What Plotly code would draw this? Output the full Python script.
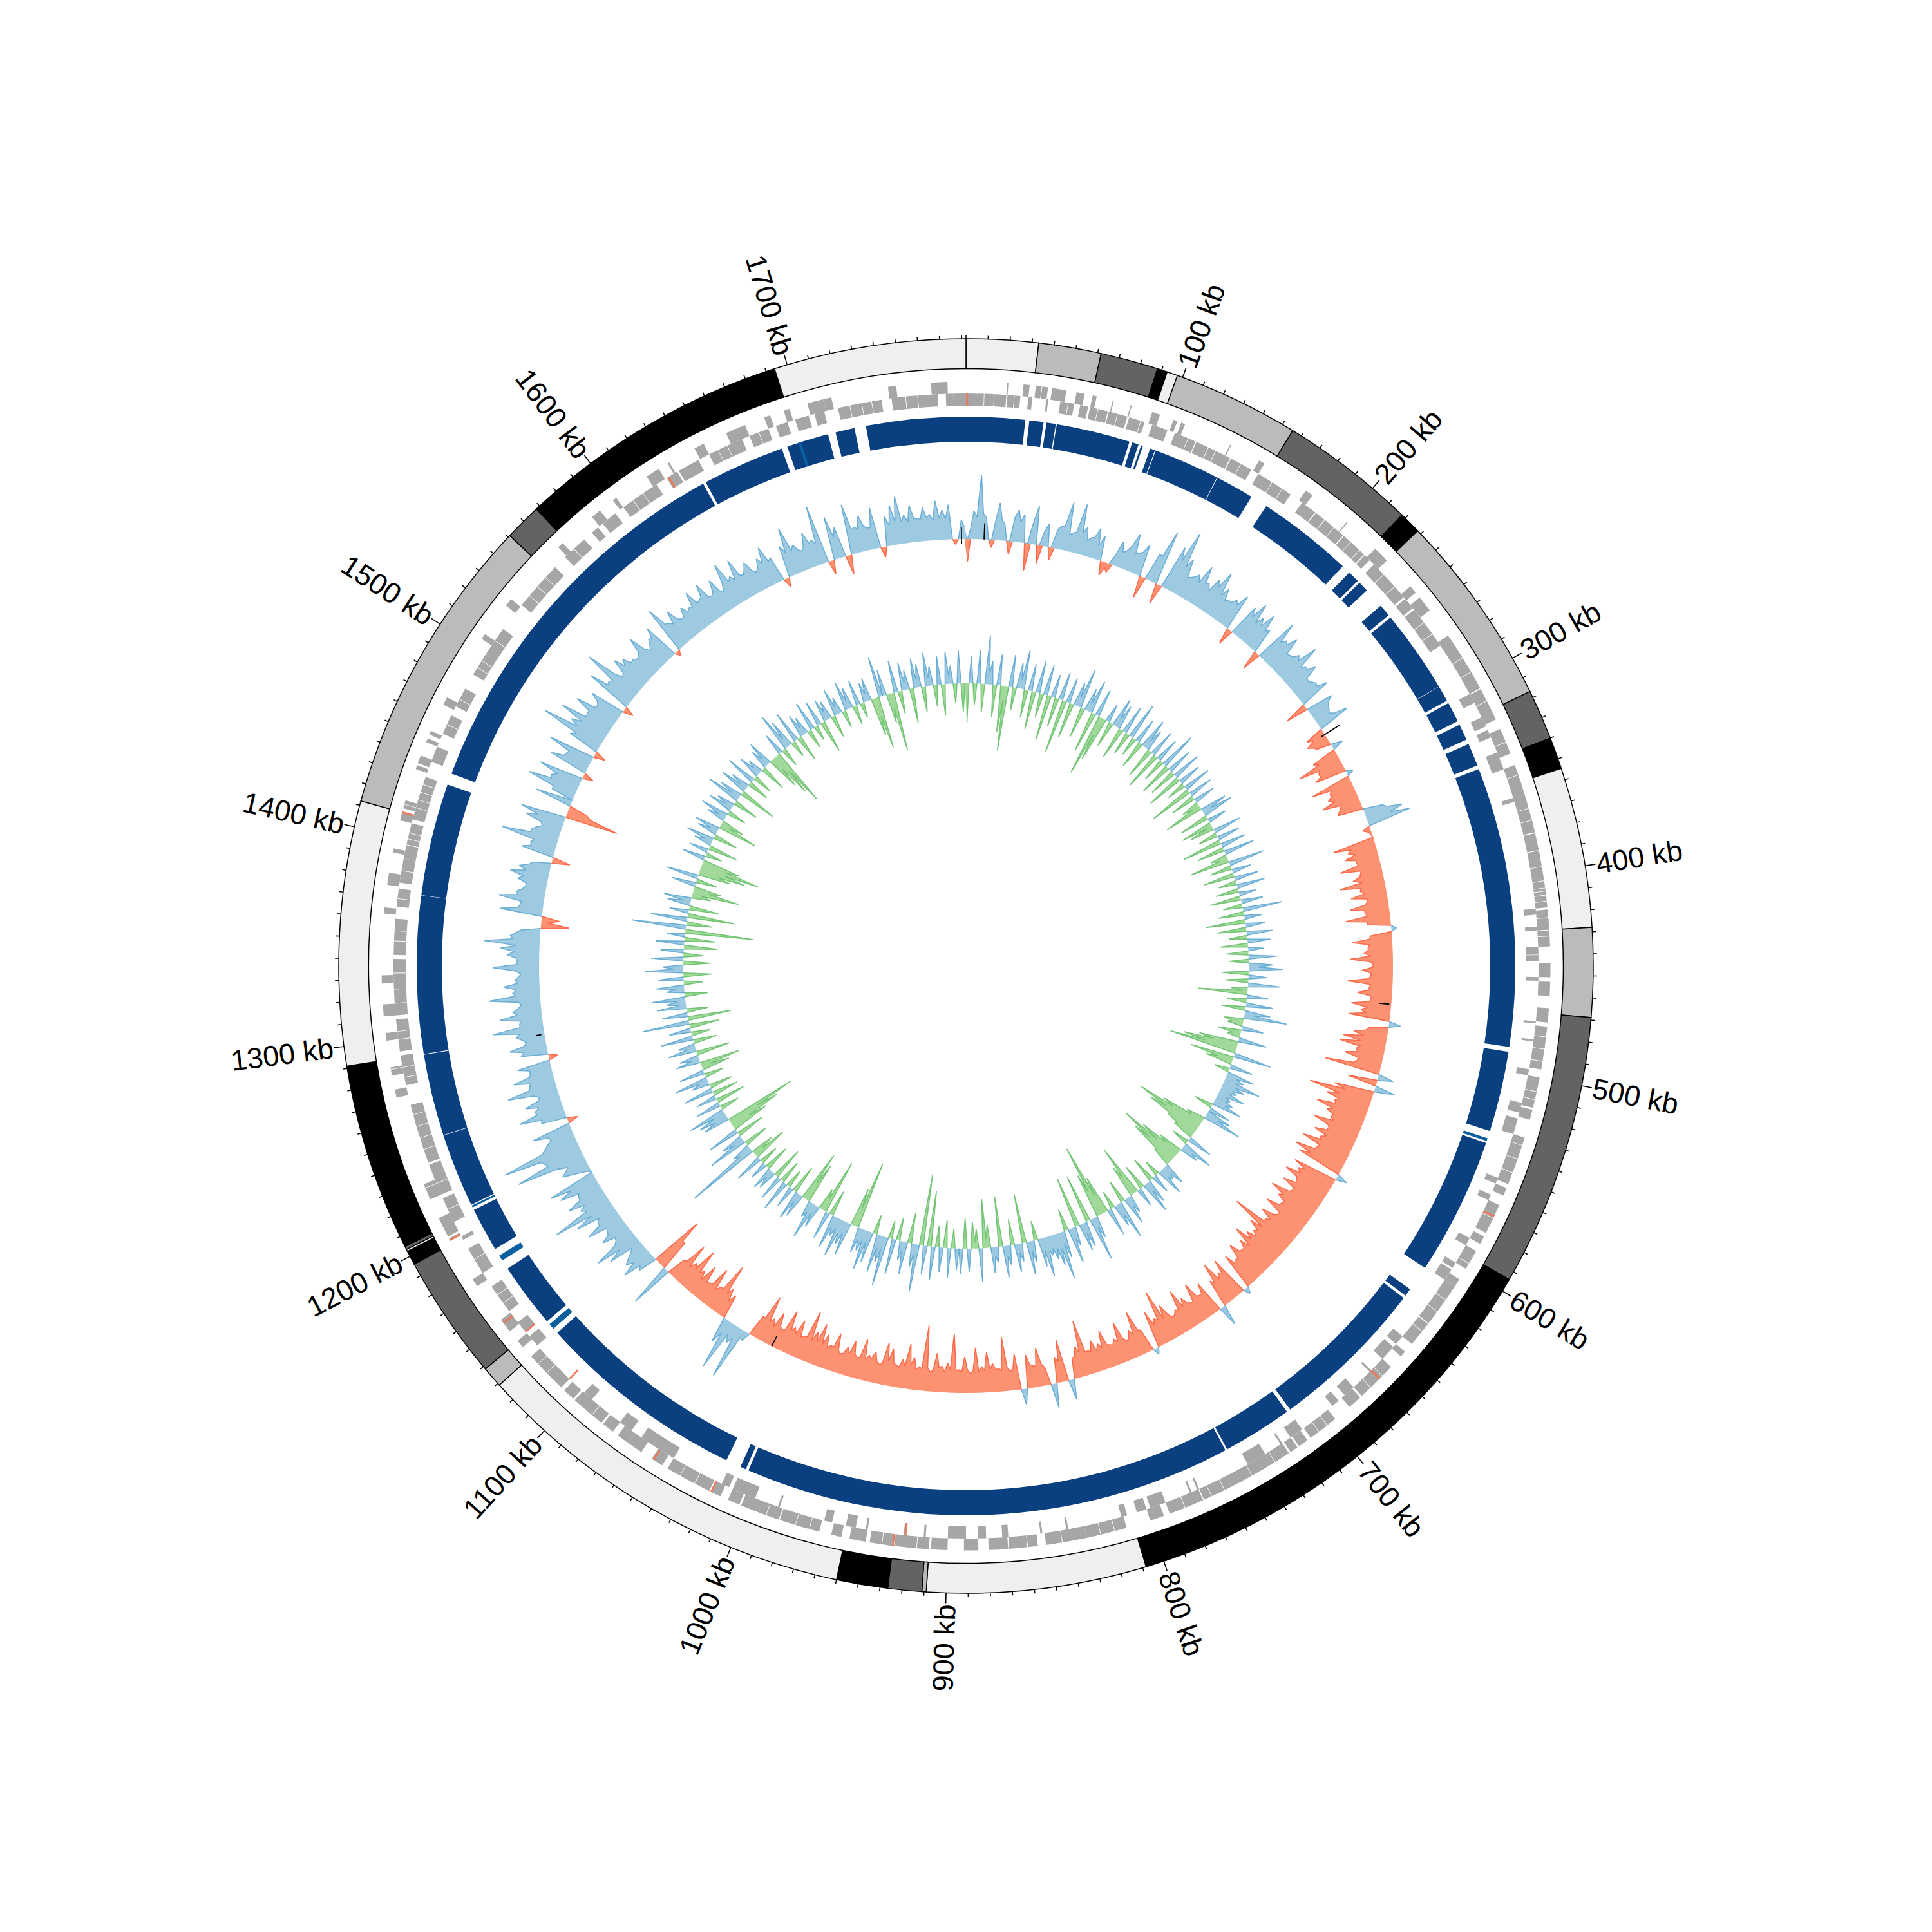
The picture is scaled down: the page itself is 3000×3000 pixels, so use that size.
import numpy as np
import plotly.graph_objects as go

GENOME_KB = 1782.0
TICK_LABELS_KB = list(range(100, 1800, 100))

BAND_START = [0, 33, 61.6, 88, 92.6, 97.5, 155.4, 218, 228, 317, 340, 354.6, 428, 468.8, 594, 808.4, 909, 911, 926.5, 950, 1129, 1138.6, 1196, 1202.5, 1203.5, 1205, 1291, 1412, 1551, 1568, 1694]
BAND_END = [33, 61.6, 88, 92.6, 97.5, 155.4, 218, 228, 317, 340, 354.6, 428, 468.8, 594, 808.4, 909, 911, 926.5, 950, 1129, 1138.6, 1196, 1202.5, 1203.5, 1205, 1291, 1412, 1551, 1568, 1694, 1782]
BAND_LEVEL = ["l", "m", "d", "k", "l", "m", "d", "k", "m", "d", "k", "l", "m", "d", "k", "l", "m", "d", "k", "l", "m", "d", "k", "l", "d", "k", "l", "m", "d", "k", "l"]

BLOCK_START = [0, 32.8, 41.7, 47.1, 87.2, 92, 97, 100, 134.9, 164, 219, 226.5, 242.6, 250.5, 294.2, 304, 316.5, 327.5, 341.5, 490, 538.5, 624, 629.5, 714, 751.5, 1008, 1019, 1137, 1183, 1209, 1247.8, 1290.8, 1373.2, 1438, 1642, 1688, 1714, 1730]
BLOCK_END = [30.7, 40.2, 46.6, 85.7, 90.6, 93, 99.6, 134.6, 155, 214.4, 225.2, 232, 249, 294, 302.5, 314.5, 325, 339.5, 487.5, 532, 610.5, 628, 712, 750.5, 1006.5, 1011, 1129, 1171, 1206, 1247.5, 1290.5, 1373, 1432, 1640.5, 1685, 1710, 1724, 1782]
STRIPE_START = [536, 1132, 1176, 1207.5, 1694]
STRIPE_END = [537.5, 1135, 1179, 1208.5, 1695.5]

# genes on the sparse side of the strand split, and on the dense side
GENE_SPARSE = [(20,20.6),(28,31),(34,40),(42,49),(54,58),(62,64),(72,72.6),(81,81.6),(92,96),(103,105),(107,109),(133,133.6),(149,152),(176,180),(201,201.6),(220,228),(245,249),(252,260),(275,282),(305,310),(318,323),(325,329),(337,346),(361,363),(417,420),(426,428),(436,443),(451,453),(473,474),(482,483),(497,500),(514,519),(522,530),(553,556),(562,565),(586,590),(600,603),(604,610),(645,650),(652,660),(668,669),(680,686),(690,694),(713,720),(725,726),(735,745),(772,773),(776,777),(790,798),(800,805),(810,813),(840,841),(853,854),(870,873),(881,885),(891,900),(911,912),(921,922),(940,941),(946,951),(958,962),(985,986),(998,1010),(1012,1016),(1043,1055),(1055,1062),(1068,1075),(1093,1098),(1135,1139),(1145,1152),(1172,1176),(1198,1199),(1200,1210),(1220,1228),(1272,1276),(1283,1287),(1300,1304),(1312,1318),(1328,1332),(1362,1365),(1376,1382),(1392,1394),(1408,1412),(1414,1418),(1434,1436),(1437,1441),(1448,1450),(1452,1454),(1468,1472),(1505,1508),(1525,1529),(1563,1566),(1585,1590),(1598,1600),(1618,1625),(1630,1631),(1645,1650),(1662,1672),(1682,1685),(1692,1695),(1704,1712),(1712,1716),(1744,1748),(1765,1773)]
GENE_DENSE = [(0,20),(20.6,27),(31,33),(40,41),(47,54),(57,61),(62,71),(71.5,81),(82,90),(94,102),(106,117),(117.5,136),(136.5,148),(152,171),(178,186),(186.5,204),(204.5,218),(218.5,222),(225,247),(248,254),(255,277),(277.5,305),(305.5,322),(327,340),(346,356),(354,380),(380.5,417),(418,436),(444,451),(453,460),(466,473),(475,496),(500,515),(516,521),(530,554),(556,560),(565,580),(582,586),(590,600),(606,610),(610,632),(632.5,645),(650,653),(660,680),(681,688),(697,712),(714,719),(720,724),(725,740),(738,752),(752,772),(772.5,790),(793,800),(812,832),(832,852),(856,870),(870.5,880),(885,892),(900,908),(909,926),(927,938),(940,948),(952,957),(963,983),(983.5,1003),(1004,1010),(1014,1019),(1020,1043),(1046,1052),(1058,1066),(1066,1072),(1075,1081),(1082,1099),(1100,1106),(1108,1129),(1131,1137),(1140,1146),(1153,1168),(1176,1190),(1195,1197),(1205,1218),(1220,1236),(1237,1267),(1277,1292),(1294,1310),(1312,1340),(1342,1360),(1366,1375),(1378,1390),(1390,1408),(1410,1432),(1440,1448),(1455,1465),(1470,1480),(1488,1500),(1500,1515),(1530,1555),(1562,1575),(1580,1584),(1587,1595),(1600,1620),(1626,1632),(1633,1644),(1650,1668),(1672,1682),(1686,1692),(1696,1703),(1706,1711),(1718,1740),(1745,1768),(1772,1782)]
GENE_RED_SPARSE = [921, 1108, 1150, 1198, 1412]
GENE_RED_DENSE = [0.6, 571, 668, 926.6, 1019, 1051, 1140, 1627]
GENE_SPACER_KB = [5,9,14,24,37,51,66,76,88,113,124,128,142,160,166,192,198,209,215,232,240,263,270,
                  288,296,312,334,351,368,374,389,397,404,407.5,409,411,414,422,428,431,440,453,480,486,492,507,511,534,541,548,572,597,618,625,637,666,674,702,707,733,746,761,768,782,818,825,844,861,895,915,932,968,975,990,1028,1036,1088,1118,1124,
                  1158,1163,1184,1212,1226,1244,1250,1256,1262,1281,1286,1300,1304,1318,1325,1333,1349,1354,1370,1384,1397,1400,1403,1416,1420,1424,1428,1460,1474,1492,1496,1508,1536,1542,1548,1568,1606,1612,1655,1660,1677,1724,1730,1735,1752,1758,1776]
STRAND_SWAP_KB = (280, 1130)

SKEW_A = [
-36,44,100,34,-12,58,26,-20,50,44,-42,60,-28,36,-20,36,76,30,78,44,30,48,38,-22,-14,
40,28,60,32,50,-34,44,86,-32,70,100,60,34,44,64,40,54,72,50,36,44,58,-26,52,65,
48,60,40,-30,71,46,58,34,44,69,40,52,28,36,50,-36,43,30,24,52,-30,-34,-22,18,-40,
-69,-40,-50,10,-64,-38,-45,-59,-32,-40,30,59,68,-12,-2,-66,-44,-52,-36,-64,-34,-48,-70,-40,-56,
-32,-60,-38,-70,-36,8,-34,-62,-38,-44,-66,-30,-48,-34,-70,-36,-54,-32,-62,-46,-64,18,-30,-52,-68,
-72,-44,-60,-38,-88,24,-46,32,-62,-100,-70,-54,-80,-60,-50,-74,-46,-66,-52,-78,-50,-83,-72,17,-70,
-60,-76,-52,-70,-48,-80,-62,-50,-72,-44,-68,-54,-106,-70,-56,-62,-78,-60,-48,-66,-44,-58,10,-64,-46,
-69,-44,32,-52,-36,-62,-34,-48,-66,-38,-30,-56,-84,-42,-58,10,-36,-70,-44,-30,-64,-40,-34,-60,-42,
-50,-36,-87,-48,-32,31,-66,-40,38,-28,-60,-34,-52,25,-56,-30,-84,-36,-44,-62,-40,-70,-30,-56,-36,
-92,-46,-40,-60,-30,-102,-36,-50,-70,-44,-34,-58,-66,-30,-48,-40,-64,-32,-56,-44,-30,-60,-38,-52,-66,
-50,-80,-36,-58,-42,-66,-30,-54,-40,-73,-34,14,84,30,80,41,-38,-44,-80,-36,-62,-30,-54,-40,-70,
-40,-66,-30,68,-50,-85,30,52,40,22,55,71,28,46,30,58,34,66,98,46,62,38,64,76,6,
44,30,110,60,123,50,36,62,-16,40,72,44,56,30,78,40,63,34,52,-14,42,58,30,44,79,
36,66,44,30,80,42,56,38,28,72,34,50,60,87,46,30,-44,-28,66,36,71,44,32,46,60,
48,28,-28,52,40,89,44,30,60,71,-83,-30,58,36,80,46,70,-16,62,40,74,-18,50,101,60,
83,44,70,38,56,-16,74,46,94,34,60,52,40,36,64,30,44,58,-8,77,42,56,34,48,40,
61,40,62,34,56,30,72,44,67,36,52,30,48,62,40,-14,50,76,44,30,56,40,92,-22,68,
48,-30,79,40,56,34,64,-16,46,62,75,44,58,36,52,40,61,46,54,-8,30]

SKEW_A_BETWEEN = [
16,34,40,0,30,32,0,38,32,0,34,0,24,0,30,36,26,32,34,24,32,22,0,-8,14,
24,38,30,36,0,0,42,0,0,50,44,32,38,34,38,32,44,36,32,36,38,0,0,38,34,
36,34,0,0,38,42,32,36,38,34,38,30,32,34,0,0,34,28,30,0,-20,-26,0,0,-32,
-36,-38,0,0,-34,-38,-36,-32,-36,0,36,38,0,-4,0,-38,-34,-36,-34,-32,-36,-34,-38,-34,-32,
-36,-38,-34,-36,0,0,-34,-36,-38,-34,-36,-32,-34,-38,-34,-36,-32,-34,-36,-38,0,0,-34,-36,-38,
-38,-40,-38,-42,0,0,0,0,-44,-50,-48,-50,-52,-48,-44,-50,-48,-44,-50,-48,-52,-54,0,0,-50,
-52,-54,-50,-48,-52,-56,-48,-52,-44,-50,-48,-54,-50,-52,-48,-50,-44,-48,-50,-44,-38,0,0,-40,-38,
-38,0,0,-36,-38,-34,-38,-36,-34,-32,-38,-36,-38,-34,0,0,-38,-34,-32,-36,-34,-32,-36,-34,-32,
-34,-36,-38,-34,0,0,-32,0,0,-34,-32,-36,0,0,-34,-36,-32,-34,-36,-34,-32,-34,-36,-32,-34,
-36,-32,-38,-34,-36,-34,-32,-38,-34,-32,-36,-38,-32,-34,-36,-32,-34,-36,-34,-32,-34,-36,-32,-34,-36,
-34,-36,-32,-34,-36,-32,-34,-28,-32,-34,0,12,20,18,22,0,-26,-34,-36,-28,-32,-28,-26,-32,-34,
-28,-32,0,0,-50,0,24,28,32,16,32,34,26,32,28,34,28,36,38,36,38,34,42,0,24,
36,46,56,64,58,44,38,0,0,38,42,36,34,38,42,38,36,34,0,0,36,34,36,38,36,
34,38,36,34,38,36,34,32,38,34,36,38,36,42,38,0,-10,0,38,34,42,36,32,38,36,
34,0,0,38,36,44,38,34,42,0,-38,0,0,36,44,38,0,0,42,38,0,0,42,46,44,
42,44,38,42,0,0,44,42,44,38,42,38,36,42,38,36,42,0,0,44,36,38,34,36,38,
38,42,36,38,34,42,38,36,38,42,36,34,38,36,0,0,38,36,34,36,38,34,0,0,34,
0,0,38,36,38,34,0,0,32,36,34,32,36,34,36,32,34,32,0,0,18]

SKEW_B = [
-62,42,-34,52,-44,76,36,-50,48,-72,-101,50,-36,40,61,-44,42,-60,50,-38,48,-70,36,-46,44,
-84,40,-56,38,62,-48,36,52,-64,44,-97,-70,30,-40,46,38,-50,44,-36,58,-30,40,-44,48,34,
-48,42,-60,38,-36,59,-52,40,-44,46,-57,36,-30,44,-69,38,-40,34,-28,-62,42,49,-46,30,-50,
-38,44,-30,36,-62,40,-44,48,-26,-62,56,-34,30,-48,38,-28,44,-36,26,-48,34,-30,61,-40,28,
-62,30,-46,40,-28,36,-44,24,-34,44,-30,38,53,-42,28,-36,50,-26,-77,34,-30,42,-38,40,68,
-30,-24,34,-36,-20,44,-62,-86,-106,59,-69,-42,36,-24,44,30,59,36,26,42,22,30,46,-30,34,
40,61,-30,-70,-109,-88,-50,-34,40,-28,49,30,-40,-70,-102,-78,-30,36,22,44,-26,30,-40,38,51,
-40,30,-82,-50,28,44,-36,60,36,-28,44,-60,-115,-70,34,68,-75,40,44,-80,30,56,-34,42,74,
50,38,30,62,44,-30,34,52,-75,28,44,-40,30,50,-77,24,40,-36,-76,52,-30,-42,36,-48,40,
34,-30,46,-44,38,-34,52,-87,44,-111,74,36,-48,50,30,-36,56,-28,78,42,60,-30,48,62,34,
40,-105,-60,52,38,60,30,54,-40,44,-85,-34,36,58,26,-64,-80,38,46,-44,34,-30,50,-36,40,
-50,30,36,-40,28,-30,44,-55,-36,116,30,-40,63,36,-46,50,-60,-84,-113,42,46,59,-30,40,-46,
32,-40,47,-36,28,52,-30,40,-44,-63,38,30,-52,44,26,-38,50,-30,34,-46,73,-67,40,-34,46,
30,52,-36,28,44,-30,40,-44,60,32,-42,50,-30,36,-52,44,-48,28,-106,85,-40,57,-73,30,-46,
36,43,-30,-73,-44,38,-34,50,-50,-72,-94,-60,37,-26,30,-46,28,44,-38,32,40,-62,-36,30,44,
-30,38,28,-40,54,36,-60,44,30,-34,48,-30,36,24,-42,30,40,-52,-70,-92,34,-30,61,44,-26,
50,-40,36,28,-30,46,-24,40,-51,34,30,-36,42,26,-28,46,34,-30,40,-24,30,36,-60,-81,64,
40,-46,-92,50,-36,44,30,-54,46,36,-40,52,30,-34,44,-48,50,28,-30,51,-44]

SKEW_B_BETWEEN = [
0,0,0,0,0,18,0,0,0,-24,0,0,0,14,0,0,0,0,0,0,0,0,0,0,0,
0,0,0,16,0,0,14,0,0,0,-30,0,0,0,14,0,0,0,0,0,0,0,0,14,0,
0,0,0,0,0,0,0,0,0,0,0,0,0,0,0,0,0,0,-12,0,14,0,0,0,-8,
0,0,0,0,0,0,0,0,-12,0,0,0,0,0,0,0,0,0,0,0,0,0,0,0,0,
0,0,0,0,0,0,0,0,0,0,0,14,0,0,0,0,0,-8,0,0,0,0,0,14,0,
-18,0,0,-12,0,0,-40,-50,0,0,-24,0,0,0,16,18,20,18,16,14,16,18,0,0,0,
20,0,-20,-50,-60,-50,-30,0,0,0,18,0,-24,-40,-50,-30,0,14,16,0,0,0,0,14,0,
0,0,-30,0,14,0,0,18,0,0,0,-30,-40,0,16,0,0,16,0,0,18,0,0,18,24,
22,20,22,20,0,0,16,0,0,14,0,0,16,0,0,14,0,-14,0,0,-10,0,0,0,0,
0,0,0,0,0,0,0,0,0,0,16,0,0,14,0,0,0,0,20,20,0,0,16,18,18,
0,-30,0,18,20,16,18,0,0,0,-20,0,14,16,0,-30,0,14,0,0,0,0,0,0,0,
0,12,0,0,0,0,0,-14,0,20,0,0,16,0,0,0,-30,-50,0,20,18,0,0,0,0,
0,0,0,0,14,0,0,0,-14,0,12,0,0,12,0,0,0,0,0,0,0,0,0,0,10,
12,0,0,12,0,0,0,0,14,0,0,0,0,0,0,0,0,0,0,0,0,0,0,0,0,
12,0,-14,-24,0,0,0,0,-30,-40,-40,0,0,0,0,0,12,0,0,12,0,-14,0,12,0,
0,12,0,0,14,0,0,12,0,0,0,0,12,0,0,12,0,-20,-30,0,0,0,14,0,0,
0,0,12,0,0,0,0,0,0,12,0,0,12,0,0,12,0,0,0,0,12,0,-30,0,0,
0,-24,0,0,0,12,0,0,12,0,0,12,0,0,0,0,12,0,0,0,0]

MARK_KB = [12, 283, 471, 1025, 1291, 1779]
MARK_LOW = [0, -6, -19, -18, 5, -7]
MARK_HIGH = [25, 27, -3, 0, 13, 19]

# ---- styles and scale ----
R_MAX = 1060.0
PAGE = 3000.0
CX = 0.5 - 8.0 / PAGE   # the page body adds an 8 px margin
CY = 0.5 + 8.0 / PAGE
R_BAND = (927.5, 974.0)
R_OUT = (889.0, 907.5)
R_IN = (870.0, 889.0)
R_BLOCK = (814.0, 853.0)
BASE_A = 663.0
BASE_B = 439.0
LEVEL = {"l": "#efefef", "m": "#bbbbbb", "d": "#636363", "k": "#000000"}
GENE = "#a6a6a6"
NAVY = "#0a3f80"
STRIPE = "#0a5fa0"
RED = "#f0785a"


def deg(kb):
    return np.asarray(kb, dtype=float) * 360.0 / GENOME_KB


def bars(start, end, lo, hi, color, line=None, lw=0):
    start = np.asarray(start, float)
    end = np.asarray(end, float)
    return go.Barpolar(
        theta=deg((start + end) / 2), width=deg(end - start),
        base=[lo] * len(start), r=[hi - lo] * len(start),
        marker=dict(color=color, line=dict(color=line or "rgba(0,0,0,0)", width=lw)),
        hoverinfo="skip", showlegend=False)


def weave(peaks, between):
    b = list(between) + [0] * max(0, len(peaks) - len(between))
    out = []
    for p, q in zip(peaks, b):
        out += [p, q]
    return np.array(out, float)


def track(values, base, up_fill, up_line, down_fill, down_line):
    v = values
    n = len(v)
    kb = (np.arange(n) + 0.5) * GENOME_KB / n
    th = deg(kb)
    out = []
    for sign, fill, line in ((1, up_fill, up_line), (-1, down_fill, down_line)):
        part = np.where(sign * v > 0, v, 0.0)
        r = base + part
        out.append(go.Scatterpolar(
            theta=np.r_[th, th[0], th[0], th[::-1]], r=np.r_[r, r[0], base, np.full(n, base)],
            mode="lines", fill="toself", fillcolor=fill, line=dict(width=0, color=fill),
            hoverinfo="skip", showlegend=False))
        act = part != 0
        near = act | np.roll(act, 1) | np.roll(act, -1)
        rr = r.copy()
        rr[~near] = np.nan
        out.append(go.Scatterpolar(
            theta=th, r=rr, mode="lines", line=dict(width=1.6, color=line),
            connectgaps=False, hoverinfo="skip", showlegend=False))
    return out


def swapped(mid):
    return (mid >= STRAND_SWAP_KB[0]) & (mid < STRAND_SWAP_KB[1])


fig = go.Figure()

# genes: the dense strand lies inside at the top and left, outside at the right and bottom
sp = np.array(GENE_SPARSE, float)
de = np.array(GENE_DENSE, float)
sp_sw = swapped((sp[:, 0] + sp[:, 1]) / 2)
de_sw = swapped((de[:, 0] + de[:, 1]) / 2)
outer = np.vstack([sp[~sp_sw], de[de_sw]])
inner = np.vstack([sp[sp_sw], de[~de_sw]])
fig.add_trace(bars(outer[:, 0], outer[:, 1], R_OUT[0], R_OUT[1], GENE))
fig.add_trace(bars(inner[:, 0], inner[:, 1], R_IN[0], R_IN[1], GENE))
gp = np.array(GENE_SPACER_KB, float)
fig.add_trace(bars(gp - 0.14, gp + 0.14, R_IN[0] - 1, R_OUT[1] + 1, "#ffffff"))
rs = np.array(GENE_RED_SPARSE, float)
rd = np.array(GENE_RED_DENSE, float)
r_out = np.r_[rs[~swapped(rs)], rd[swapped(rd)]]
r_in = np.r_[rs[swapped(rs)], rd[~swapped(rd)]]
fig.add_trace(bars(r_out - 0.45, r_out + 0.45, R_OUT[0], R_OUT[1], RED))
fig.add_trace(bars(r_in - 0.45, r_in + 0.45, R_IN[0], R_IN[1], RED))

# blocks
fig.add_trace(bars(BLOCK_START, BLOCK_END, R_BLOCK[0], R_BLOCK[1], NAVY))
fig.add_trace(bars(STRIPE_START, STRIPE_END, R_BLOCK[0], R_BLOCK[1], STRIPE))

# outer bands
fig.add_trace(bars(BAND_START, BAND_END, R_BAND[0], R_BAND[1],
                   [LEVEL[c] for c in BAND_LEVEL], line="#000000", lw=1.5))

# ticks
all_ticks = np.arange(0, 1790, 10.0)
minor = [t for t in all_ticks if t % 100 != 0 or t == 0]
th, rr = [], []
for t in minor:
    th += [float(deg(t)), float(deg(t)), None]
    rr += [R_BAND[1], R_BAND[1] + 6, None]
for t in TICK_LABELS_KB:
    th += [float(deg(t)), float(deg(t)), None]
    rr += [R_BAND[1], R_BAND[1] + 16, None]
fig.add_trace(go.Scatterpolar(theta=th, r=rr, mode="lines", line=dict(color="#000000", width=1.6),
                              hoverinfo="skip", showlegend=False))

# tracks
for tr in track(weave(SKEW_A, SKEW_A_BETWEEN), BASE_A, "#9ecae1", "#6baed6", "#fc9272", "#fb6a4a"):
    fig.add_trace(tr)
for tr in track(weave(SKEW_B, SKEW_B_BETWEEN), BASE_B, "#9ecae1", "#6baed6", "#a1d99b", "#74c476"):
    fig.add_trace(tr)

# small black marks on the first track
th, rr = [], []
for k, a, b in zip(MARK_KB, MARK_LOW, MARK_HIGH):
    th += [float(deg(k)), float(deg(k)), None]
    rr += [BASE_A + a, BASE_A + b, None]
fig.add_trace(go.Scatterpolar(theta=th, r=rr, mode="lines", line=dict(color="#000000", width=1.8),
                              hoverinfo="skip", showlegend=False))

# tick labels
annotations = []
for t in TICK_LABELS_KB:
    a = float(deg(t))
    half = 62.5 if t < 1000 else 74.0
    rad = R_BAND[1] + 16 + 7 + half
    x = CX + rad * np.sin(np.radians(a)) / PAGE
    y = CY + rad * np.cos(np.radians(a)) / PAGE
    ang = a - 90 if a <= 180 else a + 90 - 360
    annotations.append(dict(
        x=x, y=y, xref="paper", yref="paper", text=f"{t} kb", showarrow=False,
        textangle=ang, xanchor="center", yanchor="middle",
        font=dict(family="Liberation Sans", size=45, color="#000000")))

half_dom = R_MAX / PAGE
fig.update_layout(
    width=3000, height=3000, margin=dict(l=0, r=0, t=0, b=0), autosize=False,
    paper_bgcolor="#ffffff", plot_bgcolor="#ffffff", showlegend=False,
    annotations=annotations,
    polar=dict(
        domain=dict(x=[CX - half_dom, CX + half_dom], y=[CY - half_dom, CY + half_dom]),
        bgcolor="rgba(0,0,0,0)",
        barmode="overlay",
        radialaxis=dict(range=[0, R_MAX], visible=False),
        angularaxis=dict(rotation=90, direction="clockwise", thetaunit="degrees",
                         visible=False, showgrid=False, showline=False, ticks="", showticklabels=False),
    ),
)
fig.write_html("out.html")
